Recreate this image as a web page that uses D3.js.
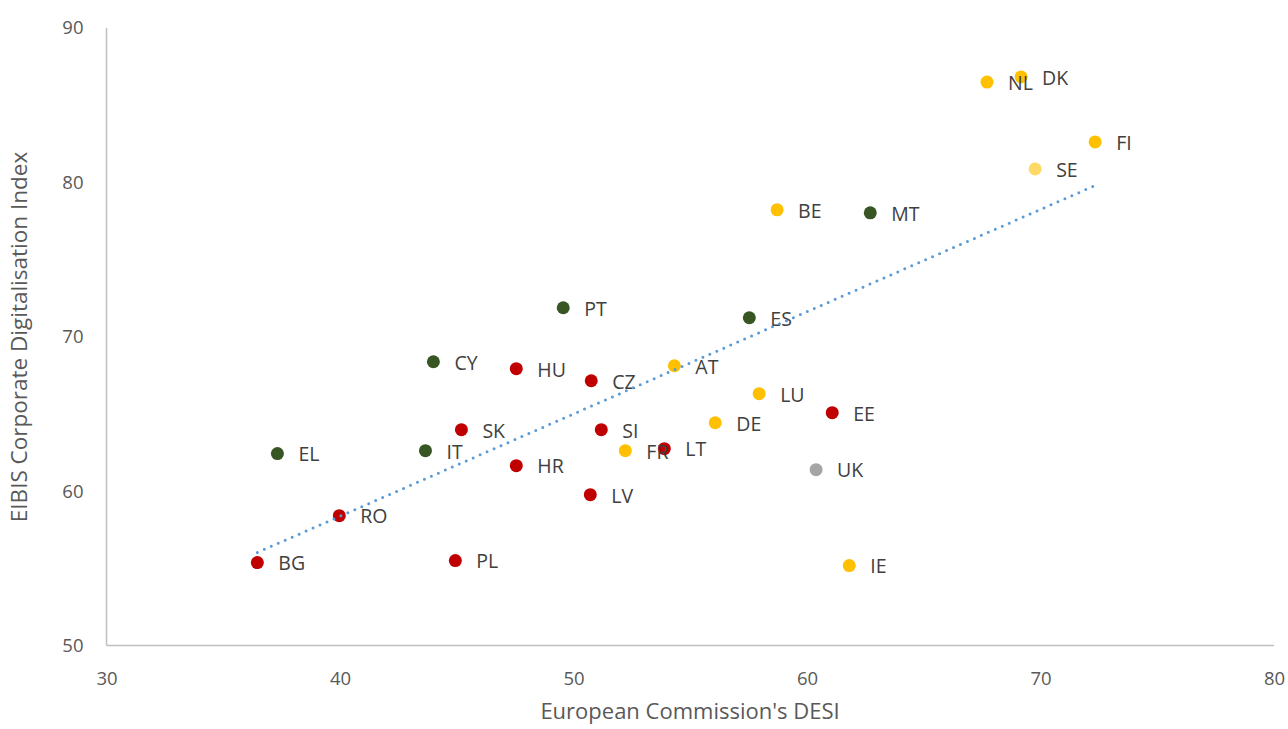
<!DOCTYPE html>
<html><head><meta charset="utf-8">
<script src="https://cdn.jsdelivr.net/npm/d3@7"></script>
<style>body{margin:0;background:#fff}svg{display:block}</style>
</head><body>
<svg id="c" width="1288" height="729"></svg>
<script>
const countries = ["BG","RO","EL","IT","SK","HR","PL","CY","HU","PT","CZ","SI","LV","FR","AT","LT","DE","ES","LU","BE","UK","EE","IE","MT","NL","DK","SE","FI"];
const desi = [36.46,39.97,37.32,43.66,45.20,47.55,44.94,44.0,47.55,49.56,50.76,51.19,50.72,52.22,54.32,53.89,56.07,57.53,57.95,58.72,60.39,61.08,61.81,62.71,67.71,69.17,69.77,72.34];
const eibis = [55.37,58.41,62.43,62.62,63.98,61.65,55.50,68.38,67.93,71.88,67.15,63.98,59.77,62.62,68.12,62.75,64.43,71.23,66.31,78.22,61.39,65.08,55.18,78.03,86.50,86.83,80.87,82.62];
const groups = ["red","red","green","green","red","red","red","green","red","green","red","red","red","yellow","yellow","red","yellow","green","yellow","yellow","grey","red","yellow","green","yellow","yellow","lightyellow","yellow"];
const xTicks = [30,40,50,60,70,80];
const yTicks = [50,60,70,80,90];

const colors = {red:"#C00000",green:"#375623",yellow:"#FFC000",lightyellow:"#FFD966",grey:"#A5A5A5"};
const svg = d3.select("#c");
const x = d3.scaleLinear().domain([30,80]).range([106.5,1274]);
const y = d3.scaleLinear().domain([50,90]).range([645.5,28]);
const font = "'Open Sans', 'Liberation Sans', sans-serif";

svg.append("line").attr("x1",x(30)).attr("x2",x(30)).attr("y1",y(90)).attr("y2",y(50)).attr("stroke","#BFBFBF").attr("stroke-width",1.5);
svg.append("line").attr("x1",x(30)).attr("x2",x(80)).attr("y1",y(50)).attr("y2",y(50)).attr("stroke","#BFBFBF").attr("stroke-width",1.5);

const xa = svg.append("g").attr("transform",`translate(0,${y(50)})`).call(d3.axisBottom(x).tickValues(xTicks).tickSize(0).tickPadding(26));
xa.select(".domain").remove();
xa.selectAll("text").attr("font-family",font).attr("font-size",18.5).attr("fill","#595959");
const ya = svg.append("g").attr("transform",`translate(${x(30)},0)`).call(d3.axisLeft(y).tickValues(yTicks).tickSize(0).tickPadding(23));
ya.select(".domain").remove();
ya.selectAll("text").attr("font-family",font).attr("font-size",18.5).attr("fill","#595959");

svg.append("text").attr("x",690).attr("y",719).attr("text-anchor","middle").attr("font-family",font).attr("font-size",22).attr("fill","#595959").text("European Commission's DESI");
svg.append("text").attr("transform","translate(27,337) rotate(-90)").attr("text-anchor","middle").attr("font-family",font).attr("font-size",22.5).attr("fill","#595959").text("EIBIS Corporate Digitalisation Index");

const data = countries.map((c,i)=>({c,x:desi[i],y:eibis[i],g:groups[i]}));

svg.append("g").selectAll("circle").data(data).join("circle")
 .attr("cx",d=>x(d.x)).attr("cy",d=>y(d.y)).attr("r",6.5).attr("fill",d=>colors[d.g]);

svg.append("g").selectAll("text").data(data).join("text")
 .attr("x",d=>x(d.x)+21).attr("y",d=>y(d.y)+1).attr("dy","0.35em")
 .attr("font-family",font).attr("font-size",19.5).attr("fill","#404040").text(d=>d.c);

const mx = d3.mean(desi), my = d3.mean(eibis);
let sxy=0,sxx=0;
desi.forEach((v,i)=>{sxy+=(v-mx)*(eibis[i]-my);sxx+=(v-mx)*(v-mx);});
const b = sxy/sxx, a = my-b*mx;
const x0 = d3.min(desi), x1 = d3.max(desi);
svg.append("line").attr("x1",x(x0)).attr("y1",y(a+b*x0)).attr("x2",x(x1)).attr("y2",y(a+b*x1))
 .attr("stroke","#5B9BD5").attr("stroke-width",3).attr("stroke-linecap","round").attr("stroke-dasharray","0 7.6");
</script>
</body></html>
